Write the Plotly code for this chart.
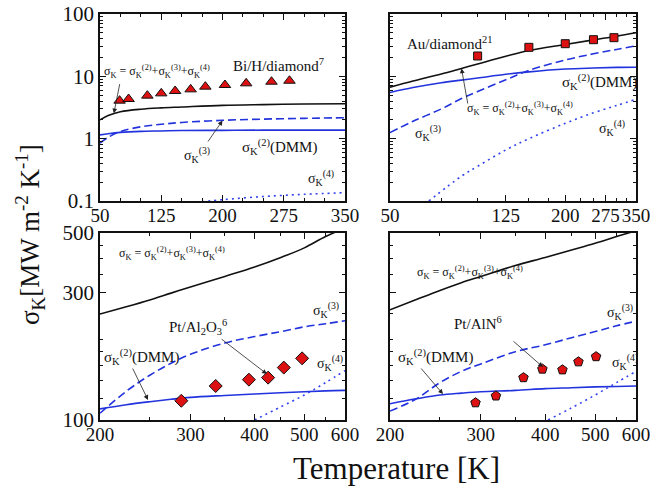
import math
import plotly.graph_objects as go

# ---------------- data ----------------
# Top-left: Bi/H/diamond (linear T axis)
tl_T = [50, 60, 75, 100, 125, 150, 200, 250, 300, 350]
tl_total = [2.0, 2.35, 2.7, 2.97, 3.12, 3.22, 3.42, 3.52, 3.6, 3.64]
tl_s3 = [0.85, 1.05, 1.3, 1.55, 1.7, 1.82, 1.97, 2.06, 2.12, 2.17]
tl_s2 = [1.15, 1.2, 1.26, 1.31, 1.33, 1.35, 1.36, 1.37, 1.37, 1.37]
tl_s4_T = [175, 200, 250, 300, 350]
tl_s4 = [0.097, 0.105, 0.118, 0.128, 0.136]
tl_exp_T = [74, 85, 108, 125, 142, 161, 179, 203, 229, 260, 282]
tl_exp = [4.07, 4.33, 4.9, 5.33, 5.82, 6.18, 6.83, 7.26, 7.72, 8.2, 8.5]

# Top-right: Au/diamond (log T axis)
tr_T = [50, 60, 75, 88, 100, 125, 150, 200, 250, 300, 350]
tr_total = [6.7, 8.4, 10.9, 13.4, 15.8, 21, 26, 32.5, 38.5, 44, 50]
tr_s2 = [5.5, 6.6, 7.9, 8.7, 9.4, 10.8, 11.8, 13.1, 13.6, 13.9, 14.0]
tr_s3 = [1.25, 1.9, 3.0, 4.4, 5.7, 8.8, 12.5, 18.3, 23, 27, 31]
tr_s4_T = [68, 88, 100, 125, 150, 200, 250, 300, 350]
tr_s4 = [0.1, 0.25, 0.36, 0.66, 1.0, 1.76, 2.6, 3.4, 4.3]
tr_exp_T = [100, 150, 200, 250, 294]
tr_exp = [21.2, 29.2, 33.4, 38.7, 41.7]

# Bottom-left: Pt/Al2O3
bl_T = [200, 225, 250, 275, 300, 350, 400, 450, 500, 550, 600]
bl_total = [249, 265, 281, 298, 314, 344, 373, 405, 440, 485, 522]
bl_s3 = [106, 128, 147, 163, 176, 194, 205, 214, 223, 229, 235]
bl_s2 = [110, 114, 117, 119.5, 121.5, 123.5, 125, 126.5, 127.5, 128.5, 129]
bl_s4_T = [400, 450, 500, 550, 600]
bl_s4 = [100, 112, 124, 138, 153]
bl_exp_T = [288, 336, 390, 425, 456, 495]
bl_exp = [118, 134, 141.5, 144, 157, 170]

# Bottom-right: Pt/AlN
br_T = [200, 225, 250, 275, 300, 350, 400, 450, 500, 550, 600]
br_total = [258, 282, 305, 326, 344, 378, 405, 432, 458, 485, 510]
br_s3 = [108, 120, 138, 152, 162, 180, 191, 203, 214, 225, 234]
br_s2 = [115, 120, 124, 126, 127.5, 129, 131, 132, 133, 133.5, 134]
br_s4_T = [405, 450, 500, 550, 600]
br_s4 = [100, 111, 124, 138, 152]
br_exp_T = [293, 321, 363, 395, 432, 464, 502]
br_exp = [116, 123, 144, 155, 154, 165, 172.5]

top_x_ticks = [50, 125, 200, 275, 350]
bot_x_ticks = [200, 300, 400, 500, 600]
top_y_ticks = [0.1, 1, 10, 100]
top_y_labels = ["0.1", "1", "10", "100"]
bot_y_ticks = [100, 300, 500]

# ---------------- figure ----------------
FONT = "Liberation Serif"
BLACK = "#111111"
BLUE = "#2233dd"
RED = "#dd1111"

fig = go.Figure()

panels = [
    ("x", "y", tl_T, tl_total, tl_s2, tl_s3, tl_s4_T, tl_s4, tl_exp_T, tl_exp, "triangle-up", 10),
    ("x2", "y2", tr_T, tr_total, tr_s2, tr_s3, tr_s4_T, tr_s4, tr_exp_T, tr_exp, "square", 8),
    ("x3", "y3", bl_T, bl_total, bl_s2, bl_s3, bl_s4_T, bl_s4, bl_exp_T, bl_exp, "diamond", 10),
    ("x4", "y4", br_T, br_total, br_s2, br_s3, br_s4_T, br_s4, br_exp_T, br_exp, "pentagon", 10),
]

for xa, ya, T, tot, s2, s3, T4, s4, eT, ev, sym, msz in panels:
    fig.add_trace(go.Scatter(x=T, y=tot, mode="lines", line=dict(color=BLACK, width=1.6, shape="spline"),
                             xaxis=xa, yaxis=ya, showlegend=False))
    fig.add_trace(go.Scatter(x=T, y=s3, mode="lines",
                             line=dict(color=BLUE, width=1.6, dash="8px,4px", shape="spline"),
                             xaxis=xa, yaxis=ya, showlegend=False))
    fig.add_trace(go.Scatter(x=T, y=s2, mode="lines", line=dict(color=BLUE, width=1.6, shape="spline"),
                             xaxis=xa, yaxis=ya, showlegend=False))
    fig.add_trace(go.Scatter(x=T4, y=s4, mode="lines",
                             line=dict(color="#3344ee", width=1.6, dash="2px,4px", shape="spline"),
                             xaxis=xa, yaxis=ya, showlegend=False))
    fig.add_trace(go.Scatter(x=eT, y=ev, mode="markers",
                             marker=dict(symbol=sym, size=msz, color=RED, line=dict(color=BLACK, width=1)),
                             xaxis=xa, yaxis=ya, showlegend=False))

W, H = 650, 491
xl = [100 / W, 345 / W]
xr = [390 / W, 636 / W]
yt = [(H - 201) / H, (H - 14) / H]
yb = [(H - 420) / H, (H - 233) / H]

axis_common = dict(showline=True, linecolor=BLACK, linewidth=1.5, mirror="allticks",
                   ticks="inside", ticklen=6, tickwidth=1.2, tickcolor=BLACK,
                   showgrid=False, zeroline=False, automargin=False, tickangle=0,
                   ticklabeloverflow="allow")
xfont = dict(family=FONT, size=19, color=BLACK)
yfont = dict(family=FONT, size=21, color=BLACK)

log_minor_top = [v * m for v in [0.1, 1, 10] for m in range(2, 10)]
log_minor_bot = [120, 140, 160, 180, 200, 250, 350, 400, 450]
XSTAND = -4

fig.update_layout(
    template="none",
    width=W, height=H, margin=dict(l=0, r=0, t=0, b=0, autoexpand=False),
    paper_bgcolor="white", plot_bgcolor="white",
    font=dict(family=FONT, color=BLACK),
    xaxis=dict(domain=xl, anchor="y", range=[50, 350], tickvals=top_x_ticks, tickfont=xfont,
               ticklabelstandoff=XSTAND,
               minor=dict(dtick=25, tick0=50, ticks="inside", ticklen=3, tickcolor=BLACK), **axis_common),
    yaxis=dict(domain=yt, anchor="x", type="log", range=[-1, 2], tickvals=top_y_ticks, ticktext=top_y_labels,
               tickfont=yfont,
               minor=dict(tickvals=log_minor_top, ticks="inside", ticklen=3, tickcolor=BLACK), **axis_common),
    xaxis2=dict(domain=xr, anchor="y2", type="log", range=[math.log10(50), math.log10(350)], tickvals=top_x_ticks,
                tickfont=xfont, ticklabelstandoff=XSTAND,
                minor=dict(tickvals=[75, 100, 150, 175, 225, 250, 300, 325], ticks="inside", ticklen=3, tickcolor=BLACK),
                **axis_common),
    yaxis2=dict(domain=yt, anchor="x2", type="log", range=[-1, 2], tickvals=top_y_ticks, showticklabels=False,
                minor=dict(tickvals=log_minor_top, ticks="inside", ticklen=3, tickcolor=BLACK), **axis_common),
    xaxis3=dict(domain=xl, anchor="y3", type="log", range=[math.log10(200), math.log10(600)], tickvals=bot_x_ticks,
                tickfont=xfont, ticklabelstandoff=XSTAND,
                minor=dict(tickvals=[250, 350, 450, 550], ticks="inside", ticklen=3, tickcolor=BLACK), **axis_common),
    yaxis3=dict(domain=yb, anchor="x3", type="log", range=[2, math.log10(500)], tickvals=bot_y_ticks,
                tickfont=yfont,
                minor=dict(tickvals=log_minor_bot, ticks="inside", ticklen=3, tickcolor=BLACK), **axis_common),
    xaxis4=dict(domain=xr, anchor="y4", type="log", range=[math.log10(200), math.log10(600)], tickvals=bot_x_ticks,
                tickfont=xfont, ticklabelstandoff=XSTAND,
                minor=dict(tickvals=[250, 350, 450, 550], ticks="inside", ticklen=3, tickcolor=BLACK), **axis_common),
    yaxis4=dict(domain=yb, anchor="x4", type="log", range=[2, math.log10(500)], tickvals=bot_y_ticks,
                showticklabels=False,
                minor=dict(tickvals=log_minor_bot, ticks="inside", ticklen=3, tickcolor=BLACK), **axis_common),
)

L = math.log10
SUM = "σ<sub>K</sub> = σ<sub>K</sub><sup>(2)</sup>+σ<sub>K</sub><sup>(3)</sup>+σ<sub>K</sub><sup>(4)</sup>"
S2 = "σ<sub>K</sub><sup>(2)</sup>(DMM)"
S3 = "σ<sub>K</sub><sup>(3)</sup>"
S4 = "σ<sub>K</sub><sup>(4)</sup>"
SUMSIZE = 12


def txt(xa, ya, x, y, text, size=14):
    fig.add_annotation(xref=xa, yref=ya, x=x, y=y, text=text, showarrow=False,
                       xanchor="center", yanchor="middle",
                       font=dict(family=FONT, size=size, color=BLACK))


def arr(xa, ya, x, y, ax, ay):
    fig.add_annotation(xref=xa, yref=ya, axref=xa, ayref=ya, x=x, y=y, ax=ax, ay=ay, text="",
                       showarrow=True, arrowhead=2, arrowsize=1.2, arrowwidth=0.8, arrowcolor="#222222")


# top-left (x linear, y log)
txt("x", "y", 120, 1.07, SUM, SUMSIZE)
arr("x", "y", 67, L(2.55), 74.5, 0.90)
txt("x", "y", 268, 1.182, "Bi/H/diamond<sup>7</sup>", 15)
txt("x", "y", 169, -0.262, S3)
arr("x", "y", 200, 0.29, 181, -0.069)
txt("x", "y", 270, -0.134, S2, 15)
txt("x", "y", 321, -0.631, S4)

# top-right (x log, y log)
txt("x2", "y2", 1.905, 1.535, "Au/diamond<sup>21</sup>", 15)
arr("x2", "y2", L(88), L(13.4), 1.967, 0.54)
txt("x2", "y2", 2.146, 0.492, SUM, SUMSIZE)
txt("x2", "y2", 2.42, 0.909, S2, 15)
txt("x2", "y2", 1.83, 0.091, S3)
txt("x2", "y2", 2.462, 0.171, S4)

# bottom-left
txt("x3", "y3", 2.441, 2.624, SUM, SUMSIZE)
txt("x3", "y3", 2.741, 2.411, S3)
txt("x3", "y3", 2.492, 2.348, "Pt/Al<sub>2</sub>O<sub>3</sub><sup>6</sup>", 15)
arr("x3", "y3", 2.626, 2.172, 2.535, 2.3065)
txt("x3", "y3", 2.381, 2.2355, S2, 15)
arr("x3", "y3", 2.3945, 2.075, 2.3633, 2.198)
txt("x3", "y3", 2.749, 2.213, S4)

# bottom-right
txt("x4", "y4", 2.456, 2.5495, SUM, SUMSIZE)
txt("x4", "y4", 2.747, 2.404, S3)
txt("x4", "y4", 2.472, 2.3626, "Pt/AlN<sup>6</sup>", 15)
arr("x4", "y4", 2.5977, 2.198, 2.5376, 2.299)
txt("x4", "y4", 2.3883, 2.2355, S2, 15)
arr("x4", "y4", 2.4038, 2.097, 2.359, 2.198)
txt("x4", "y4", 2.757, 2.217, S4)

# axis titles
fig.add_annotation(xref="paper", yref="paper", x=396 / W, y=(H - 468) / H, text="Temperature [K]",
                   xanchor="center", yanchor="middle",
                   showarrow=False, font=dict(family=FONT, size=31, color=BLACK))
fig.add_annotation(xref="paper", yref="paper", x=30 / W, y=(H - 235) / H, textangle=-90,
                   xanchor="center", yanchor="middle",
                   text="σ<sub>K</sub>[MW m<sup>-2</sup> K<sup>-1</sup>]",
                   showarrow=False, font=dict(family=FONT, size=27, color=BLACK))

fig.write_html("out.html", config={"displayModeBar": False},
               post_script="document.body.style.margin='0px';")
